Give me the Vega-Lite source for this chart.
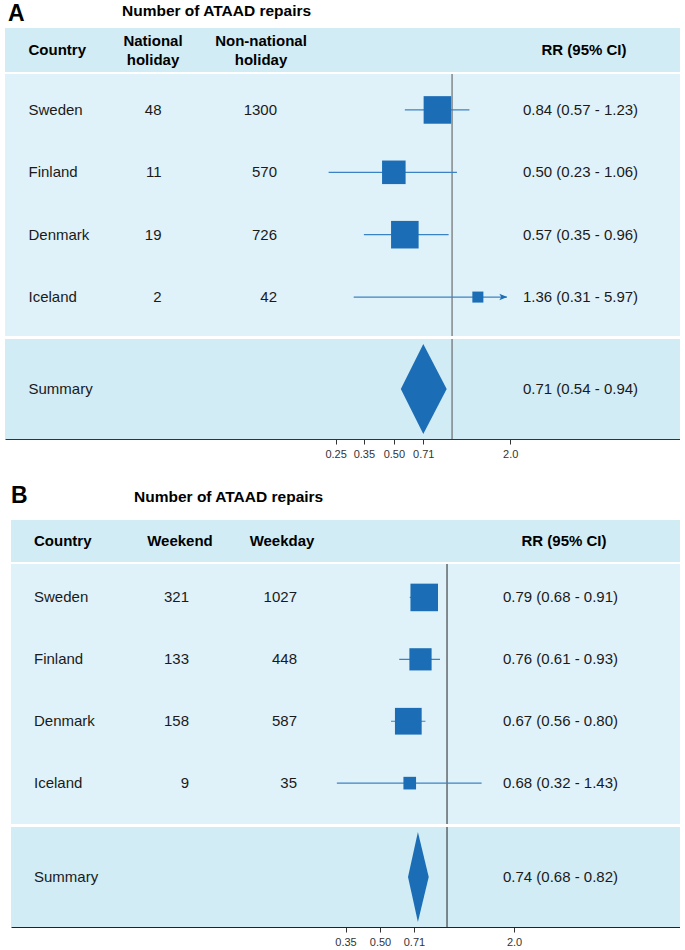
{
  "$schema": "https://vega.github.io/schema/vega-lite/v6.json",
  "padding": {"left": 5, "top": 3, "right": 0, "bottom": 0},
  "background": "white",
  "config": {
    "view": {"stroke": null},
    "text": {"font": "Liberation Sans", "fontSize": 15, "color": "#1a1a1a", "baseline": "middle"},
    "axis": {"labelFont": "Liberation Sans"}
  },
  "datasets": {
    "rowsA": [
      {"country": "Sweden", "n1": 48, "n2": 1300, "rr": 0.84, "lo": 0.57, "hi": 1.23, "weight": 100, "ci": "0.84 (0.57 - 1.23)"},
      {"country": "Finland", "n1": 11, "n2": 570, "rr": 0.50, "lo": 0.23, "hi": 1.06, "weight": 73, "ci": "0.50 (0.23 - 1.06)"},
      {"country": "Denmark", "n1": 19, "n2": 726, "rr": 0.57, "lo": 0.35, "hi": 0.96, "weight": 100, "ci": "0.57 (0.35 - 0.96)"},
      {"country": "Iceland", "n1": 2, "n2": 42, "rr": 1.36, "lo": 0.31, "hi": 5.97, "weight": 16, "ci": "1.36 (0.31 - 5.97)"}
    ],
    "sumA": [{"label": "Summary", "est": 0.71, "lo": 0.54, "hi": 0.94, "ci": "0.71 (0.54 - 0.94)"}],
    "rowsB": [
      {"country": "Sweden", "n1": 321, "n2": 1027, "rr": 0.79, "lo": 0.68, "hi": 0.91, "weight": 100, "ci": "0.79 (0.68 - 0.91)"},
      {"country": "Finland", "n1": 133, "n2": 448, "rr": 0.76, "lo": 0.61, "hi": 0.93, "weight": 65, "ci": "0.76 (0.61 - 0.93)"},
      {"country": "Denmark", "n1": 158, "n2": 587, "rr": 0.67, "lo": 0.56, "hi": 0.80, "weight": 94, "ci": "0.67 (0.56 - 0.80)"},
      {"country": "Iceland", "n1": 9, "n2": 35, "rr": 0.68, "lo": 0.32, "hi": 1.43, "weight": 21, "ci": "0.68 (0.32 - 1.43)"}
    ],
    "sumB": [{"label": "Summary", "est": 0.74, "lo": 0.68, "hi": 0.82, "ci": "0.74 (0.68 - 0.82)"}],
    "ref": [{"ref": 1}],
    "one": [{}]
  },
  "spacing": 24,
  "vconcat": [
    {
      "spacing": 2,
      "vconcat": [
        {
          "width": 675, "height": 20,
          "data": {"name": "one"},
          "layer": [
            {"mark": {"type": "text", "align": "left", "fontSize": 23, "fontWeight": "bold", "color": "#000"},
             "encoding": {"x": {"datum": 0.44, "type": "quantitative", "scale": {"domain": [0, 100], "nice": false, "zero": false}, "axis": null}, "text": {"value": "A"}}},
            {"mark": {"type": "text", "align": "left", "fontSize": 15.5, "fontWeight": "bold", "color": "#000", "dy": -3},
             "encoding": {"x": {"datum": 17.33, "type": "quantitative", "axis": null}, "text": {"value": "Number of ATAAD repairs"}}}
          ]
        },
        {
          "spacing": 1,
          "vconcat": [
            {
              "width": 675, "height": 44,
              "view": {"fill": "#d1ecf5", "stroke": null},
              "data": {"name": "one"},
              "layer": [
                {"mark": {"type": "text", "align": "left", "fontWeight": "bold", "color": "#000"},
                 "encoding": {"x": {"datum": 3.48, "type": "quantitative", "scale": {"domain": [0, 100], "nice": false, "zero": false}, "axis": null}, "text": {"value": "Country"}}},
                {"mark": {"type": "text", "align": "center", "fontWeight": "bold", "color": "#000", "lineHeight": 19, "dy": -9.5},
                 "encoding": {"x": {"datum": 21.93, "type": "quantitative", "axis": null}, "text": {"value": ["National", "holiday"]}}},
                {"mark": {"type": "text", "align": "center", "fontWeight": "bold", "color": "#000", "lineHeight": 19, "dy": -9.5},
                 "encoding": {"x": {"datum": 37.93, "type": "quantitative", "axis": null}, "text": {"value": ["Non-national", "holiday"]}}},
                {"mark": {"type": "text", "align": "center", "fontWeight": "bold", "color": "#000"},
                 "encoding": {"x": {"datum": 85.78, "type": "quantitative", "axis": null}, "text": {"value": "RR (95% CI)"}}}
              ]
            },
            {
              "width": 675, "height": 262,
              "view": {"fill": "#e0f2f9", "stroke": null},
              "layer": [
                {
                  "layer": [
                    {"data": {"name": "ref"}, "mark": {"type": "rule", "color": "#555", "strokeWidth": 1},
                     "encoding": {"x": {"field": "ref", "type": "quantitative", "scale": {"type": "log", "domain": [0.00488, 15.09], "nice": false, "zero": false}, "axis": null}}},
                    {"data": {"name": "rowsA"}, "transform": [{"filter": "datum.hi <= 1.92"}],
                     "mark": {"type": "rule", "color": "#3b82c4", "strokeWidth": 1.2},
                     "encoding": {
                       "x": {"field": "lo", "type": "quantitative", "axis": null},
                       "x2": {"field": "hi"},
                       "y": {"field": "country", "type": "nominal", "scale": {"type": "point", "domain": ["Sweden", "Finland", "Denmark", "Iceland"], "padding": 0.6, "align": 0.48}, "axis": null}
                     }},
                    {"data": {"name": "rowsA"}, "transform": [{"filter": "datum.hi > 1.92"}],
                     "mark": {"type": "rule", "color": "#3b82c4", "strokeWidth": 1.2},
                     "encoding": {
                       "x": {"field": "lo", "type": "quantitative", "axis": null},
                       "x2": {"datum": 1.92},
                       "y": {"field": "country", "type": "nominal", "axis": null}
                     }},
                    {"data": {"name": "rowsA"}, "transform": [{"filter": "datum.hi > 1.92"}],
                     "mark": {"type": "point", "shape": "M1,0L-1,-0.8L-0.5,0L-1,0.8Z", "filled": true, "color": "#1b6db5", "size": 64, "opacity": 1},
                     "encoding": {
                       "x": {"datum": 1.84, "type": "quantitative", "axis": null},
                       "y": {"field": "country", "type": "nominal", "axis": null}
                     }},
                    {"data": {"name": "rowsA"},
                     "mark": {"type": "point", "shape": "square", "filled": true, "color": "#1b6db5", "opacity": 1},
                     "encoding": {
                       "x": {"field": "rr", "type": "quantitative", "axis": null},
                       "y": {"field": "country", "type": "nominal", "axis": null},
                       "size": {"field": "weight", "type": "quantitative", "scale": {"domain": [0, 100], "range": [0, 760]}, "legend": null}
                     }}
                  ]
                },
                {
                  "data": {"name": "rowsA"},
                  "layer": [
                    {"mark": {"type": "text", "align": "left"},
                     "encoding": {"x": {"datum": 3.48, "type": "quantitative", "scale": {"domain": [0, 100], "nice": false, "zero": false}, "axis": null},
                                  "y": {"field": "country", "type": "nominal", "axis": null}, "text": {"field": "country"}}},
                    {"mark": {"type": "text", "align": "right"},
                     "encoding": {"x": {"datum": 23.19, "type": "quantitative", "axis": null},
                                  "y": {"field": "country", "type": "nominal", "axis": null}, "text": {"field": "n1", "type": "nominal"}}},
                    {"mark": {"type": "text", "align": "right"},
                     "encoding": {"x": {"datum": 40.3, "type": "quantitative", "axis": null},
                                  "y": {"field": "country", "type": "nominal", "axis": null}, "text": {"field": "n2", "type": "nominal"}}},
                    {"mark": {"type": "text", "align": "left"},
                     "encoding": {"x": {"datum": 76.74, "type": "quantitative", "axis": null},
                                  "y": {"field": "country", "type": "nominal", "axis": null}, "text": {"field": "ci"}}}
                  ]
                }
              ],
              "resolve": {"scale": {"x": "independent"}}
            },
            {
              "width": 675, "height": 100,
              "view": {"fill": "#d1ecf5", "stroke": null},
              "layer": [
                {
                  "layer": [
                    {"data": {"name": "ref"}, "mark": {"type": "rule", "color": "#555", "strokeWidth": 1},
                     "encoding": {"x": {"field": "ref", "type": "quantitative", "scale": {"type": "log", "domain": [0.00488, 15.09], "nice": false, "zero": false},
                       "axis": {"values": [0.25, 0.35, 0.5, 0.71, 2], "labelExpr": "datum.value >= 1 ? format(datum.value, '.1f') : format(datum.value, '.2f')", "title": null, "grid": false, "domainColor": "#333", "tickColor": "#333", "tickSize": 5, "labelFontSize": 11, "labelColor": "#333", "labelPadding": 4, "labelOverlap": false, "labelFlush": false, "labelBound": false}}}},
                    {"data": {"name": "sumA"},
                     "mark": {"type": "point", "shape": "M-0.5,0L0,-1L0.52,0L0,1Z", "size": 8100, "filled": true, "color": "#1b6db5", "opacity": 1},
                     "encoding": {"x": {"field": "est", "type": "quantitative"}}}
                  ]
                },
                {
                  "data": {"name": "sumA"},
                  "layer": [
                    {"mark": {"type": "text", "align": "left"},
                     "encoding": {"x": {"datum": 3.48, "type": "quantitative", "scale": {"domain": [0, 100], "nice": false, "zero": false}, "axis": null}, "text": {"field": "label"}}},
                    {"mark": {"type": "text", "align": "left"},
                     "encoding": {"x": {"datum": 76.74, "type": "quantitative", "axis": null}, "text": {"field": "ci"}}}
                  ]
                }
              ],
              "resolve": {"scale": {"x": "independent"}}
            }
          ]
        }
      ]
    },
    {
      "spacing": 0,
      "hconcat": [
        {"width": 6, "height": 10, "data": {"name": "one"}, "mark": {"type": "text"}, "encoding": {"text": {"value": ""}}},
        {
          "spacing": 12,
          "vconcat": [
            {
              "width": 669, "height": 22,
              "data": {"name": "one"},
              "layer": [
                {"mark": {"type": "text", "align": "left", "fontSize": 23, "fontWeight": "bold", "color": "#000"},
                 "encoding": {"x": {"datum": 0, "type": "quantitative", "scale": {"domain": [0, 100], "nice": false, "zero": false}, "axis": null}, "text": {"value": "B"}}},
                {"mark": {"type": "text", "align": "left", "fontSize": 15.5, "fontWeight": "bold", "color": "#000", "dy": 1},
                 "encoding": {"x": {"datum": 18.39, "type": "quantitative", "axis": null}, "text": {"value": "Number of ATAAD repairs"}}}
              ]
            },
            {
              "spacing": 1,
              "vconcat": [
                {
                  "width": 669, "height": 42,
                  "view": {"fill": "#d1ecf5", "stroke": null},
                  "data": {"name": "one"},
                  "layer": [
                    {"mark": {"type": "text", "align": "left", "fontWeight": "bold", "color": "#000"},
                     "encoding": {"x": {"datum": 3.44, "type": "quantitative", "scale": {"domain": [0, 100], "nice": false, "zero": false}, "axis": null}, "text": {"value": "Country"}}},
                    {"mark": {"type": "text", "align": "center", "fontWeight": "bold", "color": "#000"},
                     "encoding": {"x": {"datum": 25.26, "type": "quantitative", "axis": null}, "text": {"value": "Weekend"}}},
                    {"mark": {"type": "text", "align": "center", "fontWeight": "bold", "color": "#000"},
                     "encoding": {"x": {"datum": 40.51, "type": "quantitative", "axis": null}, "text": {"value": "Weekday"}}},
                    {"mark": {"type": "text", "align": "center", "fontWeight": "bold", "color": "#000"},
                     "encoding": {"x": {"datum": 82.66, "type": "quantitative", "axis": null}, "text": {"value": "RR (95% CI)"}}}
                  ]
                },
                {
                  "width": 669, "height": 260,
                  "view": {"fill": "#e0f2f9", "stroke": null},
                  "layer": [
                    {
                      "layer": [
                        {"data": {"name": "ref"}, "mark": {"type": "rule", "color": "#222", "strokeWidth": 1},
                         "encoding": {"x": {"field": "ref", "type": "quantitative", "scale": {"type": "log", "domain": [0.011, 11.13], "nice": false, "zero": false}, "axis": null}}},
                        {"data": {"name": "rowsB"},
                         "mark": {"type": "rule", "color": "#3b82c4", "strokeWidth": 1.2},
                         "encoding": {
                           "x": {"field": "lo", "type": "quantitative", "axis": null},
                           "x2": {"field": "hi"},
                           "y": {"field": "country", "type": "nominal", "scale": {"type": "point", "domain": ["Sweden", "Finland", "Denmark", "Iceland"], "padding": 0.6, "align": 0.45}, "axis": null}
                         }},
                        {"data": {"name": "rowsB"},
                         "mark": {"type": "point", "shape": "square", "filled": true, "color": "#1b6db5", "opacity": 1},
                         "encoding": {
                           "x": {"field": "rr", "type": "quantitative", "axis": null},
                           "y": {"field": "country", "type": "nominal", "axis": null},
                           "size": {"field": "weight", "type": "quantitative", "scale": {"domain": [0, 100], "range": [0, 760]}, "legend": null}
                         }}
                      ]
                    },
                    {
                      "data": {"name": "rowsB"},
                      "layer": [
                        {"mark": {"type": "text", "align": "left"},
                         "encoding": {"x": {"datum": 3.44, "type": "quantitative", "scale": {"domain": [0, 100], "nice": false, "zero": false}, "axis": null},
                                      "y": {"field": "country", "type": "nominal", "axis": null}, "text": {"field": "country"}}},
                        {"mark": {"type": "text", "align": "right"},
                         "encoding": {"x": {"datum": 26.61, "type": "quantitative", "axis": null},
                                      "y": {"field": "country", "type": "nominal", "axis": null}, "text": {"field": "n1", "type": "nominal"}}},
                        {"mark": {"type": "text", "align": "right"},
                         "encoding": {"x": {"datum": 42.75, "type": "quantitative", "axis": null},
                                      "y": {"field": "country", "type": "nominal", "axis": null}, "text": {"field": "n2", "type": "nominal"}}},
                        {"mark": {"type": "text", "align": "left"},
                         "encoding": {"x": {"datum": 73.54, "type": "quantitative", "axis": null},
                                      "y": {"field": "country", "type": "nominal", "axis": null}, "text": {"field": "ci"}}}
                      ]
                    }
                  ],
                  "resolve": {"scale": {"x": "independent"}}
                },
                {
                  "width": 669, "height": 100,
                  "view": {"fill": "#d1ecf5", "stroke": null},
                  "layer": [
                    {
                      "layer": [
                        {"data": {"name": "ref"}, "mark": {"type": "rule", "color": "#222", "strokeWidth": 1},
                         "encoding": {"x": {"field": "ref", "type": "quantitative", "scale": {"type": "log", "domain": [0.011, 11.13], "nice": false, "zero": false},
                           "axis": {"values": [0.35, 0.5, 0.71, 2], "labelExpr": "datum.value >= 1 ? format(datum.value, '.1f') : format(datum.value, '.2f')", "title": null, "grid": false, "domainColor": "#222", "tickColor": "#333", "tickSize": 5, "labelFontSize": 11, "labelColor": "#333", "labelPadding": 4, "labelOverlap": false, "labelFlush": false, "labelBound": false}}}},
                        {"data": {"name": "sumB"},
                         "mark": {"type": "point", "shape": "M-0.22,0L0,-1L0.24,0L0,1Z", "size": 8100, "filled": true, "color": "#1b6db5", "opacity": 1},
                         "encoding": {"x": {"field": "est", "type": "quantitative"}}}
                      ]
                    },
                    {
                      "data": {"name": "sumB"},
                      "layer": [
                        {"mark": {"type": "text", "align": "left"},
                         "encoding": {"x": {"datum": 3.44, "type": "quantitative", "scale": {"domain": [0, 100], "nice": false, "zero": false}, "axis": null}, "text": {"field": "label"}}},
                        {"mark": {"type": "text", "align": "left"},
                         "encoding": {"x": {"datum": 73.54, "type": "quantitative", "axis": null}, "text": {"field": "ci"}}}
                      ]
                    }
                  ],
                  "resolve": {"scale": {"x": "independent"}}
                }
              ]
            }
          ]
        }
      ]
    }
  ]
}
